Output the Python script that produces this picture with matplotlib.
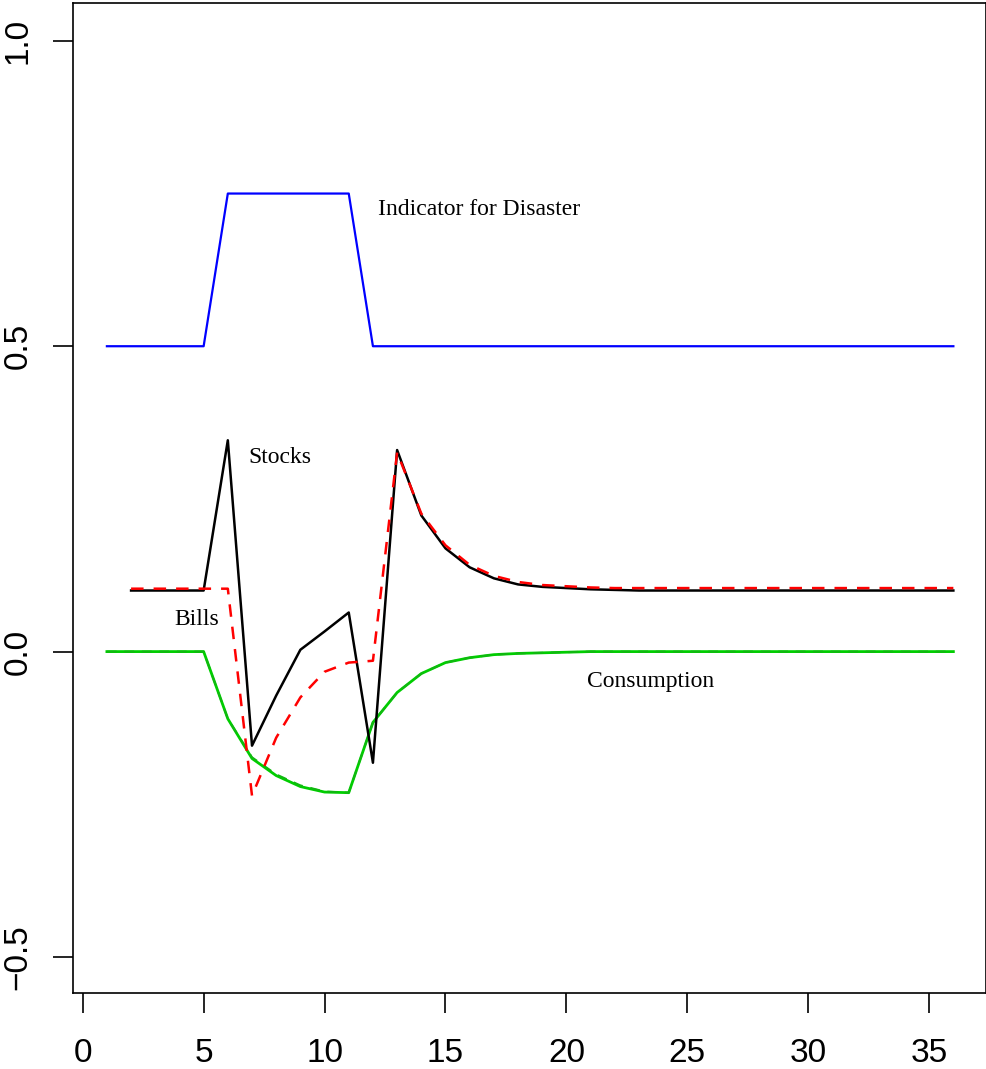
import matplotlib
matplotlib.use("Agg")
import numpy as np
from matplotlib import pyplot as plt

# periods
t_all = list(range(1, 37))
t_ret = list(range(2, 37))

# indicator for disaster (t = 1..36)
disaster = [0.5] * 5 + [0.75] * 6 + [0.5] * 25

# stock returns (t = 2..36)
stocks = [0.1, 0.1, 0.1, 0.1, 0.346, -0.154, -0.072, 0.003, 0.033, 0.064,
          -0.182, 0.33, 0.223, 0.169, 0.138, 0.12, 0.11, 0.106, 0.104, 0.102,
          0.101, 0.1, 0.1, 0.1, 0.1, 0.1, 0.1, 0.1, 0.1, 0.1,
          0.1, 0.1, 0.1, 0.1, 0.1]

# bill returns (t = 2..36)
bills = [0.103, 0.103, 0.103, 0.103, 0.103, -0.236, -0.141, -0.075, -0.033, -0.018,
         -0.015, 0.326, 0.226, 0.174, 0.142, 0.124, 0.114, 0.109, 0.107, 0.105,
         0.104, 0.104, 0.104, 0.104, 0.104, 0.104, 0.104, 0.104, 0.104, 0.104,
         0.104, 0.104, 0.104, 0.104, 0.104]

# consumption (t = 1..36)
consumption = [0, 0, 0, 0, 0, -0.11, -0.175, -0.203, -0.221, -0.23,
               -0.231, -0.116, -0.067, -0.036, -0.018, -0.01, -0.005, -0.003, -0.002, -0.001,
               0, 0, 0, 0, 0, 0, 0, 0, 0, 0,
               0, 0, 0, 0, 0, 0]
consumption2 = [0, 0, 0, 0, 0, -0.11, -0.173, -0.201, -0.219, -0.229,
                -0.231, -0.116, -0.067, -0.036, -0.018, -0.01, -0.005, -0.003, -0.002, -0.001,
                0, 0, 0, 0, 0, 0, 0, 0, 0, 0,
                0, 0, 0, 0, 0, 0]

fig = plt.figure(figsize=(9.87, 10.69), dpi=100)
ax = fig.add_axes([0.074, 0.0711, 0.925, 0.9261])

ax.plot(t_all, disaster, color="#0000ff", lw=1.6)
ax.plot(t_all, consumption, color="#00cd00", lw=2)
ax.plot(t_all, consumption2, color="#10b810", lw=1.4, dashes=(5, 4))
ax.plot(t_ret, stocks, color="black", lw=1.8)
ax.plot(t_ret, bills, color="#ff0000", lw=1.8, dashes=(5, 4))

serif = ["Liberation Serif", "DejaVu Serif"]
ax.text(16.4, 0.724, "Indicator for Disaster", family=serif, fontsize=17, ha="center", va="center")
ax.text(8.16, 0.318, "Stocks", family=serif, fontsize=17, ha="center", va="center")
ax.text(4.73, 0.052, "Bills", family=serif, fontsize=17, ha="center", va="center")
ax.text(23.5, -0.049, "Consumption", family=serif, fontsize=17, ha="center", va="center")

ax.set_xlim(-0.4, 37.35)
ax.set_ylim(-0.559, 1.062)
ax.set_xticks(np.arange(0, 36, 5))
ax.set_yticks([-0.5, 0.0, 0.5, 1.0])
ax.set_yticklabels(["\u22120.5", "0.0", "0.5", "1.0"], rotation=90, va="center")

sans = "Liberation Sans"
for lab in ax.get_xticklabels() + ax.get_yticklabels():
    lab.set_family(sans)
    lab.set_fontsize(24)
ax.tick_params(axis="both", direction="out", length=14.4, width=1.2, color="black")
ax.tick_params(axis="x", pad=18)
ax.tick_params(axis="y", pad=14)
for s in ax.spines.values():
    s.set_linewidth(1.2)

plt.savefig("out.png", dpi=100)
